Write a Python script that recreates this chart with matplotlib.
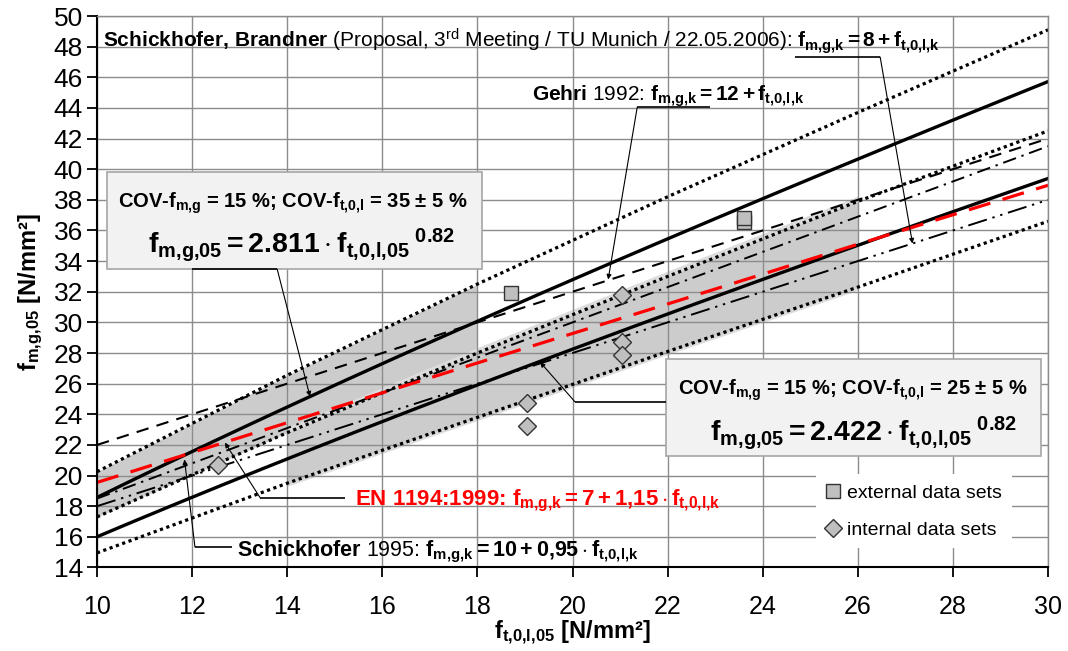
import numpy as np
import matplotlib
matplotlib.use("Agg")
import matplotlib.pyplot as plt
from matplotlib.patches import Rectangle
from matplotlib.lines import Line2D

plt.rcParams['font.family'] = ['Liberation Sans', 'DejaVu Sans']
plt.rcParams['mathtext.fontset'] = 'custom'
plt.rcParams['mathtext.rm'] = 'Liberation Sans'
plt.rcParams['mathtext.it'] = 'Liberation Sans:italic'
plt.rcParams['mathtext.bf'] = 'Liberation Sans:bold'
plt.rcParams['mathtext.sf'] = 'Liberation Sans'
plt.rcParams['mathtext.default'] = 'rm'

# === model curves f_m,g,05 = c * f_t,0,l,05 ^ 0.82 ===
coef_cov35 = 2.811
coef_cov25 = 2.422
exponent = 0.82

# === code proposals: f_m,g,k = a + b * f_t,0,l,k ===
gehri_a, gehri_b = 12.0, 1.0
en1194_a, en1194_b = 7.0, 1.15
sb2006_a, sb2006_b = 8.0, 1.0

# === bounds of the COV bands (read points) ===
band_x = [10, 14, 18, 22, 26, 30]
dot_upper = [20.25, 26.55, 32.5, 38.2, 43.7, 49.1]
dot_middle = [17.3, 22.8, 28.0, 33.0, 37.9, 42.5]
dot_lower = [14.95, 19.5, 23.8, 28.1, 32.3, 36.6]
red_line = [19.55, 23.45, 27.35, 31.2, 35.1, 38.95]

band1_range = (10, 18)
band2_range = (14, 26)

# === test data ===
ext_x = [18.7, 23.6, 23.6]
ext_y = [31.95, 36.55, 36.8]
int_x = [12.55, 19.05, 19.05, 21.05, 21.05, 21.05]
int_y = [20.7, 24.75, 23.25, 31.8, 28.75, 27.9]

x_ticks = np.arange(10, 31, 2)
y_ticks = np.arange(14, 51, 2)

fig = plt.figure(figsize=(10.68, 6.51), dpi=100)
ax = fig.add_axes([0.0908, 0.1283, 0.8905, 0.8471])
ax.set_xlim(10, 30)
ax.set_ylim(14, 50)
ax.set_axisbelow('line')

xs = np.linspace(10, 30, 200)

# grey bands
bx = np.array(band_x, dtype=float)
xb1 = np.linspace(*band1_range, 50)
ax.fill_between(xb1, np.interp(xb1, bx, dot_middle), np.interp(xb1, bx, dot_upper),
                color='#cccccc', lw=0, zorder=1)
xb2 = np.linspace(*band2_range, 80)
ax.fill_between(xb2, np.interp(xb2, bx, dot_lower) - 0.2, np.interp(xb2, bx, dot_middle) + 0.35,
                color='#dcdcdc', lw=0, zorder=1)
ax.fill_between(xb2, np.interp(xb2, bx, dot_lower), np.interp(xb2, bx, dot_middle),
                color='#cccccc', lw=0, zorder=1)

# dotted bounds
for yy in (dot_upper, dot_middle, dot_lower):
    ax.plot(band_x, yy, color='black', lw=2.3, ls=(0, (1, 1.1)), dash_capstyle='butt', zorder=2)

# code lines
ax.plot(xs, gehri_a + gehri_b * xs, color='black', lw=1.5, ls=(0, (6, 4)), zorder=2)
ax.plot(xs, en1194_a + en1194_b * xs, color='black', lw=1.4, ls=(0, (7, 3, 1.2, 3)), zorder=2)
ax.plot(xs, sb2006_a + sb2006_b * xs, color='black', lw=1.4, ls=(0, (10, 3, 1.2, 3, 1.2, 3)), zorder=2)
ax.plot(band_x, red_line, color='#ff0000', lw=2.3, ls=(0, (7, 4)), zorder=2.2)

# model curves
ax.plot(xs, coef_cov35 * xs ** exponent, color='black', lw=2.4, zorder=2.1)
ax.plot(xs, coef_cov25 * xs ** exponent, color='black', lw=2.4, zorder=2.1)

# data points
ax.plot(ext_x, ext_y, ls='none', marker='s', ms=10, mfc='#bfbfbf', mec='#333333', mew=1.0, zorder=3)
ax.plot(int_x, int_y, ls='none', marker='D', ms=9, mfc='#bfbfbf', mec='#333333', mew=1.0, zorder=3)

# axes styling
ax.set_xticks(x_ticks)
ax.set_yticks(y_ticks)
ax.grid(True, color='#8c8c8c', lw=1.0)
ax.tick_params(direction='out', length=7, width=1.3)
ax.tick_params(axis='x', pad=13, labelsize=18)
ax.tick_params(axis='y', pad=3, labelsize=19)
for side in ('left', 'bottom'):
    ax.spines[side].set_linewidth(1.5)
for side in ('top', 'right'):
    ax.spines[side].set_color('#8c8c8c')
    ax.spines[side].set_linewidth(1.0)

ax.set_xlabel(r'$\mathbf{f_{t{,}0{,}l{,}05}}$ [N/mm²]', fontsize=17, fontweight='bold', labelpad=0)
ax.set_ylabel(r'$\mathbf{f_{m{,}g{,}05}}$ [N/mm²]', fontsize=17, fontweight='bold', labelpad=6)

# annotations
ax.text(10.13, 47.98,
        r'$\mathbf{Schickhofer{,}\ Brandner}$ (Proposal, 3$^{\mathrm{rd}}$ Meeting / TU Munich / 22.05.2006): '
        r'$\mathbf{f_{m{,}g{,}k} = 8 + f_{t{,}0{,}l{,}k}}$',
        fontsize=15, va='baseline', ha='left', zorder=5)
ax.text(19.15, 44.45, r'$\mathbf{Gehri}$ 1992: $\mathbf{f_{m{,}g{,}k} = 12 + f_{t{,}0{,}l{,}k}}$',
        fontsize=15, va='baseline', ha='left', zorder=5)
ax.text(15.43, 18.08, r'EN 1194:1999: $\mathbf{f_{m{,}g{,}k} = 7 + 1{,}15\cdot f_{t{,}0{,}l{,}k}}$',
        color='#ff0000', fontweight='bold', fontsize=16, va='baseline', ha='left', zorder=5)
ax.text(12.94, 14.71,
        r'$\mathbf{Schickhofer}$ 1995: $\mathbf{f_{m{,}g{,}k} = 10 + 0{,}95\cdot f_{t{,}0{,}l{,}k}}$',
        fontsize=15.5, va='baseline', ha='left', zorder=5)

# boxed model formulas
for (x0, x1, y0, y1), cov, coef, l1, l2 in [
        ((10.21, 18.10, 33.49, 39.82), '35', coef_cov35, (10.44, 37.51), (11.07, 34.51)),
        ((21.97, 29.85, 21.28, 27.61), '25', coef_cov25, (22.22, 25.26), (22.90, 22.28))]:
    ax.add_patch(Rectangle((x0, y0), x1 - x0, y1 - y0, facecolor='#f2f2f2',
                           edgecolor='#a6a6a6', lw=1.2, zorder=4))
    ax.text(*l1, r'COV-$\mathbf{f_{m{,}g}}$ = 15 %; COV-$\mathbf{f_{t{,}0{,}l}}$ = ' + cov + ' ± 5 %',
            fontsize=14.5, fontweight='bold', va='baseline', ha='left', zorder=5)
    ax.text(*l2, r'$\mathbf{f_{m{,}g{,}05} = ' + f'{coef:.3f}' + r'\cdot f_{t{,}0{,}l{,}05}{}^{\ 0.82}}$',
            fontsize=20.5, va='baseline', ha='left', zorder=5)

# leader lines: horizontal part, then arrow to the curve
leaders = [
    ((24.68, 26.47, 47.32), (27.15, 35.15)),
    ((21.36, 22.89, 44.03), (20.75, 32.8)),
    ((12.0, 13.79, 33.47), (14.48, 25.16)),
    ((20.05, 21.97, 24.82), (19.32, 27.40)),
    ((13.43, 15.22, 18.56), (12.69, 22.15)),
    ((12.06, 12.84, 15.34), (11.84, 21.05)),
]
for i, ((hx0, hx1, hy), target) in enumerate(leaders):
    ax.plot([hx0, hx1], [hy, hy], color='black', lw=1.2, zorder=4.5, solid_capstyle='butt')
    start = (hx1, hy) if i in (0, 2) else (hx0, hy)
    ax.annotate('', xy=target, xytext=start, zorder=4.5,
                arrowprops=dict(arrowstyle='-|>', lw=0.8, color='black',
                                mutation_scale=7, shrinkA=0, shrinkB=0))

# legend
handles = [
    Line2D([], [], ls='none', marker='s', ms=10, mfc='#bfbfbf', mec='#333333', mew=1.0),
    Line2D([], [], ls='none', marker='D', ms=9, mfc='#bfbfbf', mec='#333333', mew=1.0),
]
leg = ax.legend(handles, ['external data sets', 'internal data sets'], loc='lower right',
                bbox_to_anchor=(0.972, 0.017), fontsize=14, frameon=True, fancybox=False,
                framealpha=1, facecolor='white', edgecolor='none', handlelength=0.8,
                handletextpad=0.3, labelspacing=1.0, borderpad=0.5)
leg.set_zorder(6)

fig.savefig('out.png', dpi=100)
